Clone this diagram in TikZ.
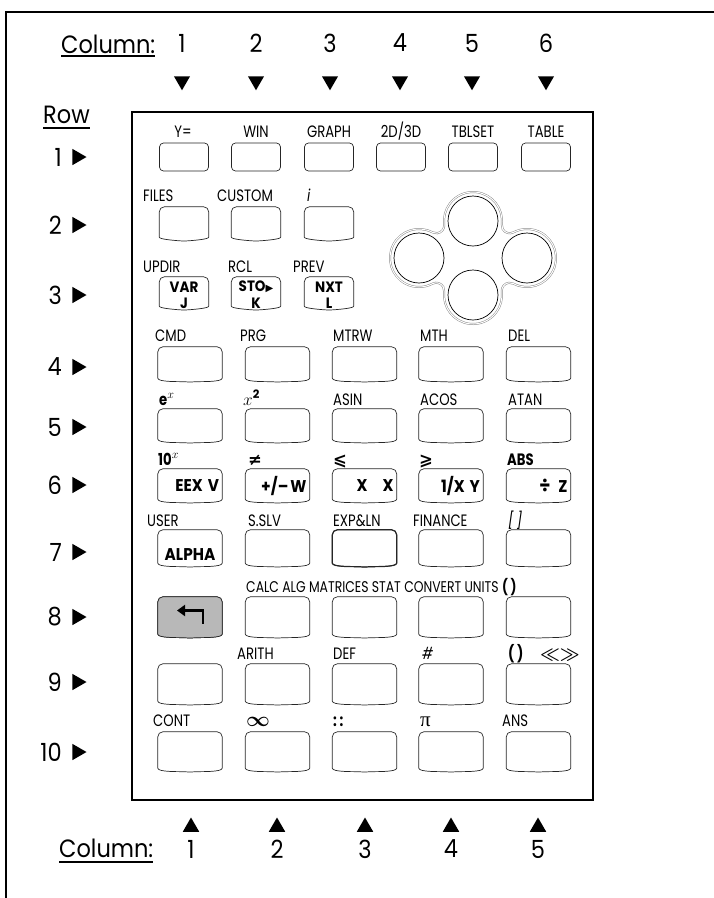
\documentclass[tikz,border=0pt]{standalone}
\usepackage{amsmath,amssymb}
\usepackage{fontspec}
\setmainfont{Poppins}
\newfontfamily\bigfont[FakeStretch=0.9]{Poppins}
\newfontfamily\labfont[FakeStretch=0.8]{Poppins}
\newfontfamily\symfont{DejaVu Sans}
\newfontfamily\grkfont{Liberation Serif}
\usetikzlibrary{positioning,arrows.meta,calc,shapes.geometric}

% outline of a key with a bulging lower edge
\newcommand{\drawkey}[2][]{%
  \draw[keyline,#1] ([yshift=9pt]#2.south west) [rounded corners=5pt] -- (#2.north west)
    -- (#2.north east) -- ([yshift=9pt]#2.south east)
    to[out=-90,in=5,looseness=0.7] (#2.south) to[out=175,in=-90,looseness=0.7] cycle;}

\begin{document}
\begin{tikzpicture}[x=1pt,y=1pt,
  frame/.style={line width=2.4pt},
  panel/.style={line width=1.8pt},
  big/.style={font=\bigfont\fontsize{25}{25}\selectfont, inner sep=0pt},
  lab/.style={font=\labfont\fontsize{16.5}{16.5}\selectfont, inner sep=0pt, anchor=base west},
  kt/.style={font=\bigfont\bfseries\fontsize{17}{17}\selectfont, inner sep=0pt},
  kts/.style={kt, font=\bigfont\bfseries\fontsize{15}{15}\selectfont},
  tri/.style={regular polygon, regular polygon sides=3, fill, inner sep=0pt, minimum size=18.5},
  tridn/.style={tri, shape border rotate=180},
  triup/.style={tri, minimum size=19},
  trirt/.style={tri, shape border rotate=-90, minimum size=19},
  uline/.style={line width=1.4pt},
  key/.style={minimum width=64, inner sep=0pt},
  topkey/.style={draw=black!85, line width=0.7pt, rounded corners=4pt,
    minimum width=49, minimum height=28, inner sep=0pt},
  keyline/.style={draw=black!85, line width=0.7pt},
  padbtn/.style={circle, draw, line width=0.7pt, minimum size=50, inner sep=0pt},
  padrim/.style={draw=black!45, double=white, double distance=1pt, line width=0.5pt}
]
\useasboundingbox (0,0) rectangle (714,-898);
\draw[frame] (714,-12) -- (6,-12) -- (6,-898);
\draw[panel] (132,-112) rectangle (593,-800);

% column and row markers
\node[big, anchor=base west] (ctop) at (61,-53) {Column:};
\draw[uline] ([yshift=-3pt]ctop.base west) -- ([yshift=-3pt]ctop.base east);
\foreach \x [count=\i] in {182,256,330,400,472,546} {
  \node[big] (cn\i) at (\x,-43) {\i};
  \node[tridn] (cd\i) at (\x,-81) {};
}
\node[big, anchor=base west] (rowlab) at (43,-123) {Row};
\draw[uline] ([yshift=-5pt]rowlab.base west) -- ([yshift=-5pt]rowlab.base east);
\foreach \y [count=\i] in {157,225,295,367,427,485,552,617,682,752} {
  \node[big, anchor=east] (rn\i) at (62,-\y) {\i};
  \node[trirt] (rt\i) at (77,-\y) {};
}
\foreach \x [count=\i] in {191,277,365,451,538} {
  \node[triup] (bu\i) at (\x,-827) {};
  \node[big] (bn\i) at (\x,-849) {\i};
}
\node[big, anchor=base west] (cbot) at (59,-857) {Column:};
\draw[uline] ([yshift=-5pt]cbot.base west) -- ([yshift=-5pt]cbot.base east);

% keys
\foreach \x [count=\c] in {184,256,329,401,473,546}
  \node[topkey] (k1\c) at (\x,-157) {};
\foreach \x [count=\c] in {184,256,329} {
  \node[key, minimum width=49, minimum height=34] (k2\c) at (\x,-224) {};
  \drawkey{k2\c}
  \node[key, minimum width=49, minimum height=33] (k3\c) at (\x,-293.5) {};
  \drawkey{k3\c}
}
\foreach \r/\y/\h in {4/364.5/35,5/426/34,6/486/34,7/548.5/37,8/617.5/41,9/684.5/41,10/752/40}
  \foreach \x [count=\c] in {190,277.5,364.5,451,538.5} {
    \node[key, minimum height=\h] (k\r\c) at (\x,-\y) {};
    \drawkey{k\r\c}
  }
\drawkey[fill=black!28]{k81}
\drawkey[line width=1.2pt]{k73}
\draw[line width=2.6pt, -{Triangle[width=11pt,length=8pt]}]
  ([shift={(13,-6)}]k81.center) |- ([shift={(-13,7)}]k81.center);

% arrow pad
\begin{scope}[shift={(473,-258)}]
\draw[padrim] (0,37) ++(-6.63:29) arc[start angle=-6.63, end angle=186.63, radius=29]
  arc[start angle=6.63, end angle=-117.8, radius=8]
  arc[start angle=62.2, end angle=297.8, radius=29]
  arc[start angle=117.8, end angle=-6.63, radius=8]
  arc[start angle=173.37, end angle=366.63, radius=29]
  arc[start angle=186.63, end angle=62.2, radius=8]
  arc[start angle=-117.8, end angle=117.8, radius=29]
  arc[start angle=-62.2, end angle=-186.63, radius=8] -- cycle;
\node[padbtn] (pu) at (0,37) {};
\node[padbtn] (pd) at (0,-37) {};
\node[padbtn] (pl) at (-54,0) {};
\node[padbtn] (pr) at (54,0) {};
\end{scope}

% key labels
\foreach \x/\t [count=\c] in {183/{Y=},256/WIN,329/GRAPH,401/{2D/3D},473/TBLSET,546/TABLE}
  \node[lab, anchor=base] (l1\c) at (\x,-137) {\t};
\foreach \x/\t [count=\c] in {143/FILES,217/CUSTOM,307/\textit{i}}
  \node[lab] (l2\c) at (\x,-201) {\t};
\foreach \x/\t [count=\c] in {143/UPDIR,228/RCL,293/PREV}
  \node[lab] (l3\c) at (\x,-272) {\t};
\foreach \x/\t [count=\c] in {155/CMD,240/PRG,333/MTRW,420/MTH,508/DEL}
  \node[lab] (l4\c) at (\x,-341) {\t};
\foreach \x/\t [count=\c] in {159/{\bfseries e$^{x}$},243/{$x^{\mathbf{2}}$},333/ASIN,420/ACOS,508/ATAN}
  \node[lab] (l5\c) at (\x,-405) {\t};
\foreach \x/\t [count=\c] in {158/{\bfseries 10$^{x}$},248/{\symfont\bfseries ≠},333/{\symfont\bfseries ⩽},419/{\symfont\bfseries ⩾},507/\textbf{ABS}}
  \node[lab] (l6\c) at (\x,-465) {\t};
\foreach \x/\t [count=\c] in {147/USER,248/S.SLV,333/EXP\&LN,413/FINANCE,508/\textit{[\,]}}
  \node[lab] (l7\c) at (\x,-526) {\t};
\node[lab, font=\labfont\fontsize{15.5}{15.5}\selectfont] (l81) at (246,-592)
  {CALC ALG MATRICES STAT CONVERT UNITS \textbf{(\,)}};
\foreach \x/\t [count=\c] in {237/ARITH,333/DEF,422/\textit{\#},508/{\bfseries(\,)\quad$\boldsymbol{\ll}\boldsymbol{\gg}$}}
  \node[lab] (l9\c) at (\x,-659) {\t};
\foreach \x/\t [count=\c] in {153/CONT,246/{\fontsize{21}{21}\selectfont$\boldsymbol{\infty}$},333/{\bfseries :\,:},420/{\grkfont\fontsize{21}{21}\selectfont π},502/ANS}
  \node[lab] (l10\c) at (\x,-726) {\t};

% key texts
\node[kts] (t31a) at ([yshift=6.5pt]k31.center) {VAR};
\node[kts] (t31b) at ([yshift=-9.5pt]k31.center) {J};
\node[kts] (t32a) at ([yshift=6.5pt]k32.center) {STO{\symfont\fontsize{10}{10}\selectfont ▶}};
\node[kts] (t32b) at ([yshift=-9.5pt]k32.center) {K};
\node[kts] (t33a) at ([yshift=6.5pt]k33.center) {NXT};
\node[kts] (t33b) at ([yshift=-9.5pt]k33.center) {L};
\node[kt, anchor=east] (t61) at ([xshift=-3pt]k61.east) {EEX\hspace{5pt}V};
\node[kt, anchor=east] (t62) at ([xshift=-3pt]k62.east) {+/–\hspace{2pt}W};
\node[kt, anchor=east] (t63) at ([xshift=-3pt]k63.east) {X\hspace{15pt}X};
\node[kt, anchor=east] (t64) at ([xshift=-3pt]k64.east) {1/X\hspace{5pt}Y};
\node[kt, anchor=east] (t65) at ([xshift=-3pt]k65.east) {{\fontsize{20}{20}\selectfont ÷}\hspace{8pt}Z};
\node[kt] (t71) at ([yshift=-6.5pt]k71.center) {ALPHA};
\end{tikzpicture}
\end{document}
